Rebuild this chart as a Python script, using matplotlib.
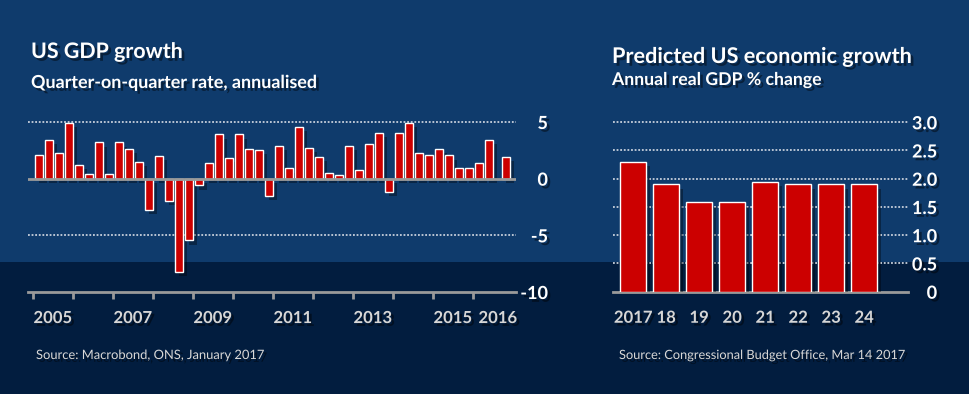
import matplotlib
matplotlib.use('Agg')
import matplotlib.pyplot as plt
import matplotlib.patheffects as pe
from matplotlib.patches import Rectangle
import numpy as np

plt.rcParams['font.family'] = ['Lato', 'DejaVu Sans']
plt.rcParams['axes.unicode_minus'] = False

# Left chart: US GDP growth, quarter-on-quarter annualised, 2005 Q1 - 2016 Q4
gdp_q = [2.1, 3.45, 2.3, 4.9, 1.2, 0.4, 3.2, 0.4, 3.2, 2.6, 1.5, -2.75,
         2.0, -1.95, -8.2, -5.45, -0.6, 1.4, 3.9, 1.8, 3.9, 2.65, 2.55, -1.5,
         2.9, 0.9, 4.6, 2.7, 1.9, 0.5, 0.3, 2.9, 0.8, 3.1, 4.05, -1.2,
         4.05, 4.95, 2.3, 2.05, 2.65, 2.05, 0.9, 0.9, 1.4, 3.45, 1.9]
years = list(range(2005, 2017))
year_labels = ['2005', '', '2007', '', '2009', '', '2011', '', '2013', '', '2015', '2016']
left_yticks = [5, 0, -5, -10]

# Right chart: predicted annual real GDP % change
pred_years = ['2017', '18', '19', '20', '21', '22', '23', '24']
pred_growth = [2.3, 1.9, 1.58, 1.58, 1.94, 1.9, 1.9, 1.9]
right_yticks = [0, 0.5, 1.0, 1.5, 2.0, 2.5, 3.0]
right_ylabels = ['0', '0.5', '1.0', '1.5', '2.0', '2.5', '3.0']

# Colours
bg_top = '#0f3b6c'
bg_bottom = '#021d3f'
bar_red = '#cc0000'
axis_grey = '#9a9a9a'
label_grey = '#d6d6d6'

W, H = 970, 394
fig = plt.figure(figsize=(W / 100, H / 100), dpi=100, facecolor=bg_top)
fig.add_artist(Rectangle((0, 0), 1, (H - 262) / H, transform=fig.transFigure,
                         facecolor=bg_bottom, edgecolor='none', zorder=0))

shadow = [pe.withSimplePatchShadow(offset=(2, -2), shadow_rgbFace='black', alpha=0.45)]
bar_shadow = [pe.SimplePatchShadow(offset=(3, -3), shadow_rgbFace='black', alpha=0.35), pe.Normal()]


def fig_box(x0, y_top, x1, y_bot):
    return [x0 / W, 1 - y_bot / H, (x1 - x0) / W, (y_bot - y_top) / H]


def style_axes(ax):
    ax.set_facecolor('none')
    for s in ['top', 'left', 'right']:
        ax.spines[s].set_visible(False)
    ax.spines['bottom'].set_color(axis_grey)
    ax.spines['bottom'].set_linewidth(2)
    ax.yaxis.tick_right()
    ax.tick_params(axis='y', length=0, colors='white')
    for lab in ax.get_yticklabels():
        lab.set_ha('right')
        lab.set_fontweight('bold')
        lab.set_fontsize(13)
        lab.set_path_effects(shadow)
    for lab in ax.get_xticklabels(minor=True) + ax.get_xticklabels():
        lab.set_fontweight('bold')
        lab.set_fontsize(12)
        lab.set_color(label_grey)
        lab.set_path_effects(shadow)


# ---- Left chart ----
ax1 = fig.add_axes(fig_box(28, 116.3, 516, 292))
x = np.arange(len(gdp_q), dtype=float)
x[-1] += 0.65  # last quarter sits a little further right in the original
ax1.bar(x, gdp_q, width=0.8, color=bar_red, edgecolor='white', linewidth=1,
        zorder=3, path_effects=bar_shadow)
for g in [5, -5]:
    ax1.axhline(g, color='#c8d0dc', linestyle=(0, (1, 1)), linewidth=1.3, zorder=1)
ax1.axhline(0, color=axis_grey, linewidth=2, zorder=4)
ax1.set_xlim(-1.13, 47.67)
ax1.set_ylim(-10, 5.5)
ax1.set_yticks(left_yticks)
ax1.set_yticklabels([str(v) for v in left_yticks])
ax1.tick_params(axis='y', pad=23)
year_start = -0.66 + 4 * np.arange(len(years))
ax1.set_xticks(year_start)
ax1.set_xticklabels([])
ax1.tick_params(axis='x', which='major', length=5, width=2, color=axis_grey, direction='out')
centers = year_start + 2
centers[-1] += 0.5
ax1.set_xticks(centers, minor=True)
ax1.set_xticklabels(year_labels, minor=True)
ax1.tick_params(axis='x', which='minor', length=0, pad=13)
style_axes(ax1)

# ---- Right chart ----
ax2 = fig.add_axes(fig_box(613, 116.6, 908, 291.7))
xr = np.arange(len(pred_growth))
ax2.bar(xr, pred_growth, width=0.79, color=bar_red, edgecolor='white', linewidth=1,
        zorder=3, path_effects=bar_shadow)
for g in right_yticks[1:]:
    ax2.axhline(g, color='#c8d0dc', linestyle=(0, (1, 1)), linewidth=1.3, zorder=1)
ax2.set_xlim(-0.61, 8.33)
ax2.set_ylim(0, 3.1)
ax2.set_yticks(right_yticks)
ax2.set_yticklabels(right_ylabels)
ax2.tick_params(axis='y', pad=21)
ax2.set_xticks(xr)
ax2.set_xticklabels(pred_years)
ax2.tick_params(axis='x', length=0, pad=13)
style_axes(ax2)

# ---- Titles and sources ----
def ftext(px, py, s, **kw):
    fig.text(px / W, 1 - py / H, s, **kw)

ftext(31, 58, 'US GDP growth', fontsize=15.4, fontweight='bold', color='white',
      va='baseline', path_effects=shadow)
ftext(31, 88, 'Quarter-on-quarter rate, annualised', fontsize=12.9, fontweight='bold',
      color='white', va='baseline', path_effects=shadow)
ftext(612, 63, 'Predicted US economic growth', fontsize=15.6, fontweight='bold',
      color='white', va='baseline', path_effects=shadow)
ftext(612, 85, 'Annual real GDP % change', fontsize=12.7, fontweight='bold',
      color='white', va='baseline', path_effects=shadow)
ftext(36, 359, 'Source: Macrobond, ONS, January 2017', fontsize=9.3, color='#d8d8d8',
      va='baseline', path_effects=shadow)
ftext(619, 359, 'Source: Congressional Budget Office, Mar 14 2017', fontsize=9.2,
      color='#d8d8d8', va='baseline', path_effects=shadow)

fig.savefig('out.png', dpi=100, facecolor=bg_top)
